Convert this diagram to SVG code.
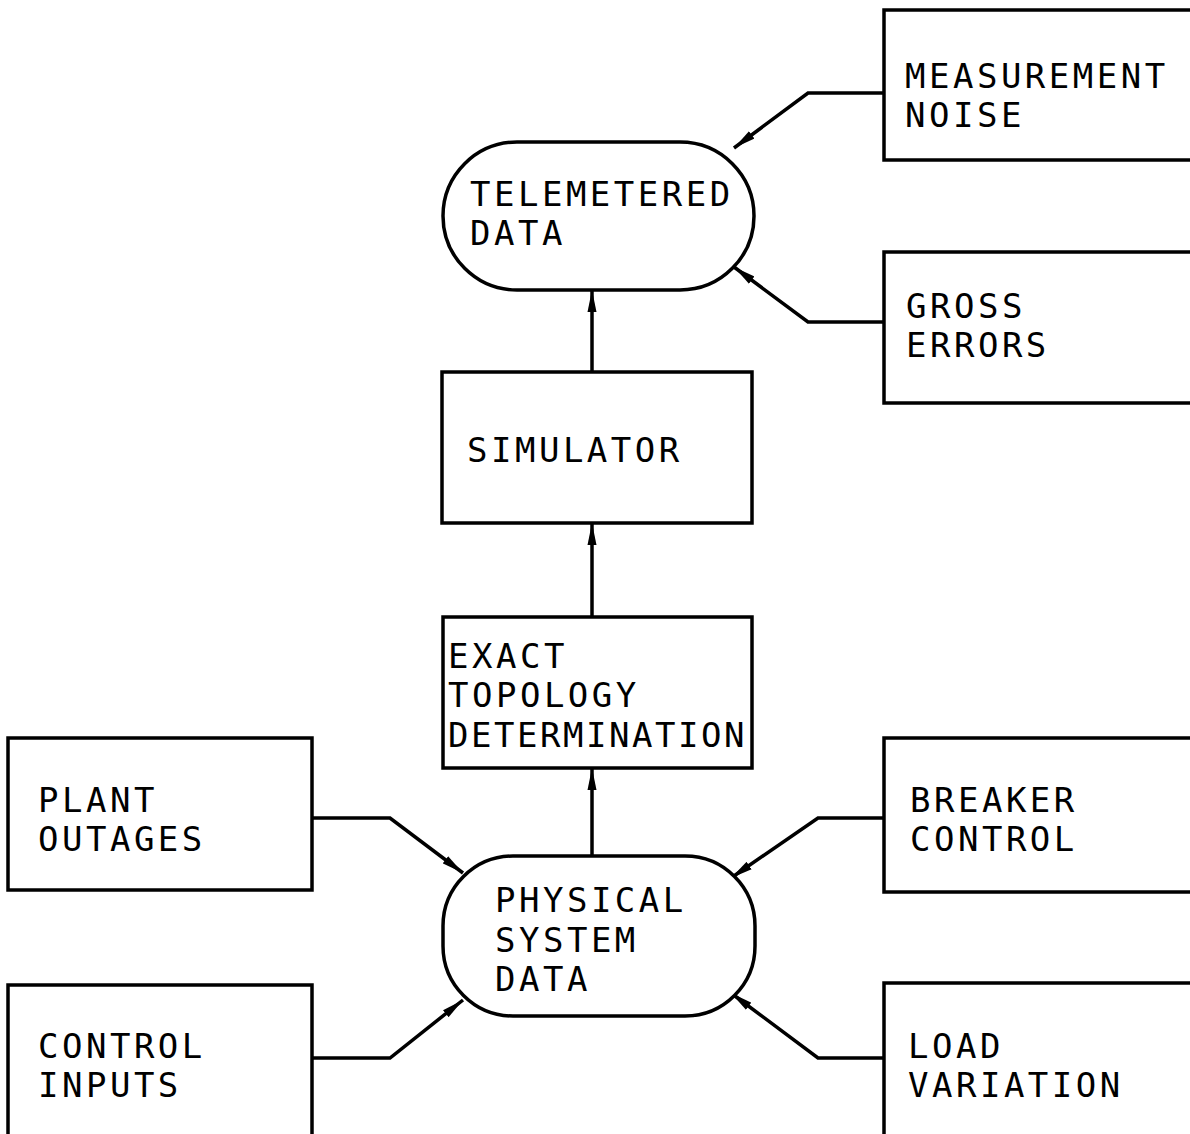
<svg xmlns="http://www.w3.org/2000/svg" width="1190" height="1134" viewBox="0 0 1190 1134">
<style>
.box{fill:#fff;stroke:#000;stroke-width:3.5}
.t{font-family:"DejaVu Sans Mono","Liberation Mono",monospace;font-size:34px;letter-spacing:3.5px;fill:#000}
.c{fill:none;stroke:#000;stroke-width:3.5}
</style>
<defs>
<marker id="ah" viewBox="0 0 22 10" refX="22" refY="5" markerWidth="22" markerHeight="10" markerUnits="userSpaceOnUse" orient="auto">
<path d="M0,0.5 L22,5 L0,9.5 Z" fill="#000"/>
</marker>
</defs>
<rect width="1190" height="1134" fill="#fff"/>
<g id="connectors">
<polyline class="c" points="884,93 808,93 734,148" marker-end="url(#ah)"/>
<polyline class="c" points="884,322 808,322 734,267" marker-end="url(#ah)"/>
<line class="c" x1="592" y1="372" x2="592" y2="290" marker-end="url(#ah)"/>
<line class="c" x1="592" y1="617" x2="592" y2="523" marker-end="url(#ah)"/>
<line class="c" x1="592" y1="856" x2="592" y2="768" marker-end="url(#ah)"/>
<polyline class="c" points="312,818 390,818 463,873" marker-end="url(#ah)"/>
<polyline class="c" points="312,1058 390,1058 463,1000" marker-end="url(#ah)"/>
<polyline class="c" points="884,818 818,818 731,878" marker-end="url(#ah)"/>
<polyline class="c" points="884,1058 818,1058 731,993" marker-end="url(#ah)"/>
</g>
<g id="measurement-noise">
<rect class="box" x="884" y="10" width="310" height="150"/>
<text class="t" x="905" y="88">MEASUREMENT</text>
<text class="t" x="905" y="127">NOISE</text>
</g>
<g id="gross-errors">
<rect class="box" x="884" y="252" width="310" height="151"/>
<text class="t" x="906" y="318">GROSS</text>
<text class="t" x="906" y="357">ERRORS</text>
</g>
<g id="telemetered-data">
<rect class="box" x="443" y="142" width="311" height="148" rx="74" ry="74"/>
<text class="t" x="470" y="206">TELEMETERED</text>
<text class="t" x="470" y="245">DATA</text>
</g>
<g id="simulator">
<rect class="box" x="442" y="372" width="310" height="151"/>
<text class="t" x="467" y="462">SIMULATOR</text>
</g>
<g id="exact-topology">
<rect class="box" x="443" y="617" width="309" height="151"/>
<text class="t" x="448" y="668">EXACT</text>
<text class="t" x="448" y="707">TOPOLOGY</text>
<text class="t" x="448" y="747" textLength="300">DETERMINATION</text>
</g>
<g id="physical-system-data">
<rect class="box" x="443" y="856" width="312" height="160" rx="70" ry="70"/>
<text class="t" x="495" y="912">PHYSICAL</text>
<text class="t" x="495" y="952">SYSTEM</text>
<text class="t" x="495" y="991">DATA</text>
</g>
<g id="plant-outages">
<rect class="box" x="8" y="738" width="304" height="152"/>
<text class="t" x="38" y="812">PLANT</text>
<text class="t" x="38" y="851">OUTAGES</text>
</g>
<g id="control-inputs">
<rect class="box" x="8" y="985" width="304" height="160"/>
<text class="t" x="38" y="1058">CONTROL</text>
<text class="t" x="38" y="1097">INPUTS</text>
</g>
<g id="breaker-control">
<rect class="box" x="884" y="738" width="310" height="154"/>
<text class="t" x="910" y="812">BREAKER</text>
<text class="t" x="910" y="851">CONTROL</text>
</g>
<g id="load-variation">
<rect class="box" x="884" y="983" width="310" height="160"/>
<text class="t" x="908" y="1058">LOAD</text>
<text class="t" x="908" y="1097">VARIATION</text>
</g>
</svg>
